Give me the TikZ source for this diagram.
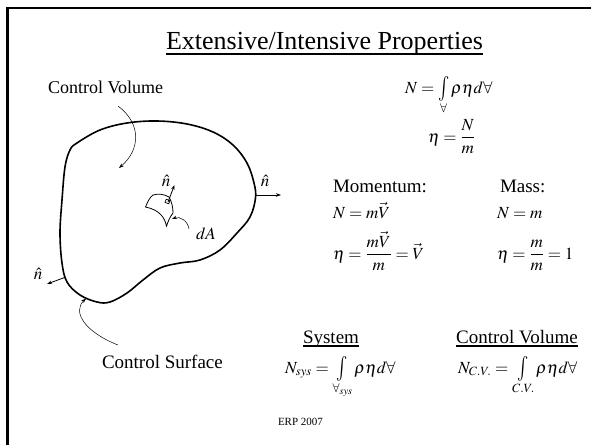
\documentclass[tikz,border=0pt]{standalone}
\usepackage{mathptmx}
\usepackage[no-math]{fontspec}
\setmainfont{Liberation Serif}
\usepackage{graphicx}
\usetikzlibrary{arrows.meta}
\newcommand{\myint}{\mathop{\vcenter{\hbox{\scalebox{1.1}[1.45]{$\int$}}}}\limits}
\newcommand{\myfrac}[2]{{\displaystyle\frac{#1}{#2}}}
\tikzset{
 every node/.style={inner sep=0pt, outer sep=0pt},
 ttl/.style={font=\fontsize{26}{30}\selectfont},
 lbl/.style={font=\fontsize{18}{21}\selectfont},
 big/.style={font=\fontsize{19}{22}\selectfont},
 eq/.style={font=\fontsize{17}{20}\selectfont},
 small/.style={font=\fontsize{11}{13}\selectfont},
 outline/.style={line width=1.6pt},
 lead/.style={line width=0.5pt, -{Stealth[length=5pt,width=3.5pt]}},
 nvec/.style={line width=0.8pt, -{Stealth[length=5pt,width=3.5pt]}},
 uline/.style={line width=1.2pt},
}
\begin{document}
\begin{tikzpicture}[x=1pt,y=-1pt]
\useasboundingbox (0,0) rectangle (591,444);
\fill[white] (0,0) rectangle (591,444);
\draw[line width=2.5pt] (7.5,450) -- (7.5,8) -- (600,8);

% title
\node[ttl, anchor=base west] (title) at (166,50) {Extensive/Intensive Properties};
\draw[uline] ([yshift=-4pt]title.base west) -- ([yshift=-4pt]title.base east);

% left labels
\node[lbl, anchor=base west] (cvlabel) at (48,93) {Control Volume};
\node[big, anchor=base west] (cslabel) at (102,368) {Control Surface};

% control volume outline
\draw[outline] plot[smooth cycle, tension=0.6] coordinates {
 (77,143) (100,130) (127,123) (157,121) (187,124) (213,132) (233,145)
 (247,163) (254,183) (255.5,198) (250,217) (237,233) (220,250) (200,260)
 (180,263) (160,268) (143,280) (127,293) (110,302) (97,302) (80,295)
 (67,282) (62,263) (60,233) (62,200) (65,167) (70,150)};

% leaders
\coordinate (cv1) at (118,106);
\coordinate (cv2) at (119,168);
\draw[lead] (cv1) .. controls (142,124) and (140,150) .. (cv2);
\coordinate (cs1) at (118,345);
\coordinate (cs2) at (86,298.5);
\draw[lead] (cs1) .. controls (85,332) and (72,312) .. (cs2);

% normals
\coordinate (bR) at (256,195);
\coordinate (bRt) at (281,195);
\draw[nvec] (bR) -- (bRt);
\node[eq] (nR) at (265,181) {$\hat n$};
\coordinate (bL) at (66,277);
\coordinate (bLt) at (47,284);
\draw[nvec] (bL) -- (bLt);
\node[eq] (nL) at (38,274) {$\hat n$};

% surface patch
\draw[line width=0.8pt, line join=round]
 (145.5,207) .. controls (148,201) and (150,197) .. (153,195)
 .. controls (158,193.5) and (164,194) .. (169,197)
 .. controls (172,202) and (173,208) .. (173,213)
 .. controls (170,217) and (168,221) .. (166.5,226.5)
 .. controls (165,218) and (160,210) .. cycle;
\draw[line width=0.7pt, rotate around={-20:(167.5,201.5)}] (165.5,199.8) rectangle (169.5,203.2);
\coordinate (pn0) at (168,202);
\coordinate (pn1) at (174.5,185);
\draw[nvec] (pn0) -- (pn1);
\node[eq] (np) at (166,181) {$\hat n$};
\node[eq] (dA) at (206,234) {$dA$};
\coordinate (dAs) at (189,229);
\coordinate (dAt) at (172,219);
\draw[lead] (dAs) .. controls (188,221) and (180,216) .. (dAt);

% right equations
\node[eq, anchor=base west] (eqN) at (405,93) {$N=\myint_{\forall}\rho\eta d\forall$};
\node[eq, anchor=base west] (eqeta) at (428,142) {$\eta=\myfrac{N}{m}$};
\node[big, anchor=base west] (mom) at (333,192) {Momentum:};
\node[big, anchor=base west] (mass) at (500,192) {Mass:};
\node[eq, anchor=base west] (nm1) at (333,218) {$N=m\vec V$};
\node[eq, anchor=base west] (nm2) at (497,218) {$N=m$};
\node[eq, anchor=base west] (eta1) at (333,259) {$\eta=\myfrac{m\vec V}{m}=\vec V$};
\node[eq, anchor=base west] (eta2) at (497,259) {$\eta=\myfrac{m}{m}=1$};

% bottom
\node[big, anchor=base] (sys) at (331,343) {System};
\draw[uline] ([yshift=-3pt]sys.base west) -- ([yshift=-3pt]sys.base east);
\node[big, anchor=base] (cvb) at (517,343) {Control Volume};
\draw[uline] ([yshift=-3pt]cvb.base west) -- ([yshift=-3pt]cvb.base east);
\node[eq, anchor=base west] (nsys) at (285,373) {$N_{sys}=\myint_{\forall_{sys}}\rho\eta d\forall$};
\node[eq, anchor=base west] (ncv) at (458,373) {$N_{C.V.}=\myint_{C.V.}\rho\eta d\forall$};
\node[small, anchor=base west] (erp) at (278,425) {ERP 2007};
\end{tikzpicture}
\end{document}
